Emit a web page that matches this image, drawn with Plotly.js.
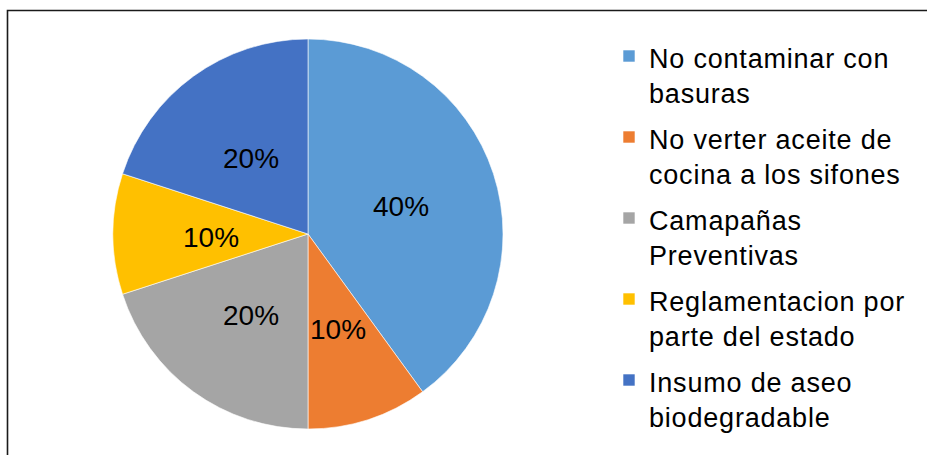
<!DOCTYPE html>
<html>
<head>
<meta charset="utf-8">
<script src="https://cdn.plot.ly/plotly-3.0.1.min.js"></script>
<style>
html,body{margin:0;padding:0;background:#fff;}
#chart{width:927px;height:455px;}
#chart .legend .legendtext{font-size:27px !important;letter-spacing:0.8px;}
</style>
</head>
<body>
<div id="chart"></div>
<script>
const categories = [
  "No contaminar con<br>basuras",
  "No verter aceite de<br>cocina a los sifones",
  "Camapañas<br>Preventivas",
  "Reglamentacion por<br>parte del estado",
  "Insumo de aseo<br>biodegradable"
];
const values = [40, 10, 20, 10, 20];
const colors = ["#5B9BD5", "#ED7D31", "#A5A5A5", "#FFC000", "#4472C4"];

const W = 927, H = 455;
const cx = 308, cy = 234, R = 195;
const labelRadiusFrac = 0.5;
const FONT = "Liberation Sans, Arial, sans-serif";

const trace = {
  type: "pie",
  labels: categories,
  values: values,
  sort: false,
  direction: "clockwise",
  rotation: 0,
  marker: {colors: colors, line: {color: "#ffffff", width: 0.6}},
  textinfo: "none",
  domain: {x: [(cx - R) / W, (cx + R) / W], y: [1 - (cy + R) / H, 1 - (cy - R) / H]},
  hoverinfo: "label+percent"
};

// data labels placed at mid-angle of each slice, derived from the values
const total = values.reduce((a, b) => a + b, 0);
let cum = 0;
const annotations = values.map(v => {
  const mid = (cum + v / 2) / total * 2 * Math.PI;
  cum += v;
  const r = R * labelRadiusFrac;
  const px = cx + r * Math.sin(mid);
  const py = cy - r * Math.cos(mid);
  return {
    xref: "paper", yref: "paper",
    x: px / W, y: 1 - py / H,
    xanchor: "center", yanchor: "middle",
    yshift: -3,
    showarrow: false,
    text: Math.round(v / total * 100) + "%",
    font: {family: FONT, size: 28, color: "#000000"}
  };
});

const layout = {
  width: W, height: H,
  margin: {l: 0, r: 0, t: 0, b: 0},
  paper_bgcolor: "#ffffff",
  showlegend: true,
  legend: {
    x: 609 / W, xanchor: "left",
    y: 1 - 30 / H, yanchor: "top",
    font: {family: FONT, size: 30, color: "#000000"},
    valign: "top",
    bgcolor: "rgba(0,0,0,0)"
  },
  annotations: annotations,
  shapes: [{
    type: "rect", xref: "paper", yref: "paper",
    x0: 7.5 / W, x1: 1.05, y0: -0.05, y1: 1 - 10.5 / H,
    line: {color: "#1a1a1a", width: 1.6}, fillcolor: "rgba(0,0,0,0)", layer: "above"
  }]
};

Plotly.newPlot("chart", [trace], layout, {displayModeBar: false, staticPlot: true});
</script>
</body>
</html>
